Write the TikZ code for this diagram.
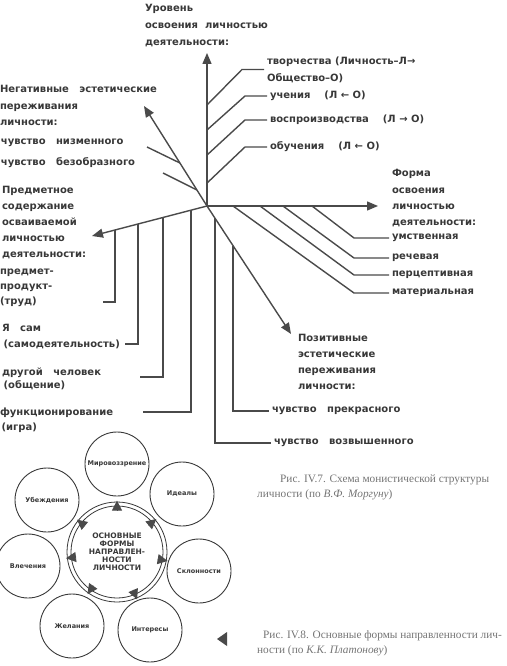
\documentclass[tikz,border=0pt]{standalone}
\usepackage{fontspec}
\newfontfamily\diagfont{DejaVu Sans}
\newfontfamily\capfont{Liberation Serif}
\usetikzlibrary{arrows.meta,calc,positioning}
\definecolor{inkgray}{HTML}{383838}
\definecolor{linegray}{HTML}{4A4A4A}
\definecolor{capgray}{HTML}{747474}
\tikzset{ln/.style={draw=linegray,line width=1.4pt},
  axis/.style={ln,-{Triangle[length=11pt,width=9pt]}},
  lbl/.style={inner sep=0pt,outer sep=3pt,text=inkgray,anchor=west,
    font=\diagfont\bfseries\fontsize{10}{16}\selectfont},
  blk/.style={lbl,align=left,anchor=north west,font=\diagfont\bfseries\fontsize{10}{#1}\selectfont},
  blk/.default=16,
  sat/.style={circle,draw=inkgray,line width=0.9pt,minimum size=64pt,inner sep=0pt,
    text=inkgray,font=\diagfont\bfseries\fontsize{6.5}{7}\selectfont},
  tri/.style={draw=linegray,fill=linegray,line width=0.8pt,-{Triangle[length=10pt,width=10pt]},shorten >=-1pt},
  captext/.style={inner sep=0pt,align=left,anchor=north west,text=capgray,
    font=\capfont\fontsize{11.3}{15}\selectfont}}
\begin{document}
\begin{tikzpicture}[x=1pt,y=-1pt]
\useasboundingbox (0,0) rectangle (506,666);
% axes of the scheme
\coordinate (O) at (207,206);
\coordinate (U) at (207,53);
\coordinate (R) at (378,206);
\coordinate (D) at (291,334);
\coordinate (L) at (92,236);
\coordinate (N) at (144,106);
\foreach \tip in {U,R,D,L,N} \draw[axis] (O) -- (\tip);

% level of mastering
\node[blk=17] (lvl) at (142,1.5) {Уровень\\освоения~~личностью\\деятельности:};
\node[blk=17] (tv) at (264,53.5) {творчества (Личность–Л→\\Общество–О)};
\node[lbl] (uch) at (267,96) {учения~~~~(Л ← О)};
\node[lbl] (vosp) at (267,120) {воспроизводства~~~~(Л → О)};
\node[lbl] (obuch) at (267,147) {обучения~~~~(Л ← О)};
\foreach \t/\n in {0.66/tv,0.497/uch,0.333/vosp,0.15/obuch}
  \draw[ln] ($(O)!\t!(U)$) -- ([xshift=-22pt]\n.west) -- (\n.west);

% form of mastering
\node[blk=16.3] (form) at (389,166.5) {Форма\\освоения\\личностью\\деятельности:};
\node[lbl] (um) at (389,238) {умственная};
\node[lbl] (rech) at (389,258) {речевая};
\node[lbl] (perc) at (389,275) {перцептивная};
\node[lbl] (mat) at (389,293) {материальная};
\foreach \t/\n in {0.614/um,0.444/rech,0.31/perc,0.152/mat}
  \draw[ln] ($(O)!\t!(R)$) -- ([xshift=-35pt]\n.west) -- (\n.west);

% positive experiences
\node[blk=16] (pos) at (295,331.5) {Позитивные\\эстетические\\переживания\\личности:};
\node[lbl] (prek) at (269,411) {чувство~~~прекрасного};
\node[lbl] (vozv) at (271,443) {чувство~~~возвышенного};
\draw[ln] ($(O)!0.31!(D)$) |- (prek.west);
\draw[ln] ($(O)!0.095!(D)$) |- (vozv.west);

% negative experiences
\node[blk=16.5] (neg) at (-3,82.5) {Негативные~~~эстетические\\переживания\\личности:};
\node[lbl] (nizm) at (-2,143) {чувство~~~низменного};
\node[lbl] (bezobr) at (-2,163) {чувство~~~безобразного};
\coordinate (nizmEnd) at (147,147);
\coordinate (bezEnd) at (163,173);
\draw[ln] (nizmEnd) -- ($(O)!0.43!(N)$);
\draw[ln] (bezEnd) -- ($(O)!0.16!(N)$);

% object content
\node[blk=16] (pred) at (-1,183.5) {Предметное\\содержание\\осваиваемой\\личностью\\деятельности:};
\node[blk=15] (prod) at (-3,265.5) {предмет-\\продукт-\\(труд)};
\node[blk=16] (yasam) at (-1,321.5) {Я~~~сам\\\,(самодеятельность)};
\node[blk=13.5] (drug) at (-1,364.5) {другой~~~человек\\\,(общение)};
\node[blk=15] (func) at (-3,404.5) {функционирование\\\,(игра)};
\coordinate (trudEnd) at (103,302);
\coordinate (samEnd) at (125,344);
\coordinate (drugEnd) at (140,377);
\coordinate (funcEnd) at (143,412);
\foreach \t/\e in {0.8/trudEnd,0.6/samEnd,0.383/drugEnd,0.139/funcEnd}
  \draw[ln] ($(O)!\t!(L)$) |- (\e);

% caption IV.7
\node[captext] (capA) at (257,475) {\hspace*{23pt}Рис. IV.7. Схема монистической структуры\\личности (по \textit{В.Ф. Моргуну})};

% forms of orientation
\node[circle,draw=inkgray,line width=0.8pt,minimum size=92pt,inner sep=0pt,align=center,
  text=inkgray,font=\diagfont\bfseries\fontsize{7.5}{8}\selectfont] (core) at (117,552)
  {ОСНОВНЫЕ\\ФОРМЫ\\НАПРАВЛЕН-\\НОСТИ\\ЛИЧНОСТИ};
\node[circle,draw=inkgray,line width=0.8pt,minimum size=100pt] (rim) at (core) {};
\node[circle,minimum size=82pt] (hub) at (core) {};
\node[sat] (mir) at (117,464) {Мировоззрение};
\node[sat] (ideal) at (182,494) {Идеалы};
\node[sat] (skl) at (199,571) {Склонности};
\node[sat] (inter) at (150,630) {Интересы};
\node[sat] (zhel) at (72,626) {Желания};
\node[sat] (vlech) at (28,566) {Влечения};
\node[sat] (ubezh) at (47,500) {Убеждения};
\foreach \a in {90,40,-10,-67,-125,187,141}
  \draw[tri] (hub.\a) -- (rim.\a);

% caption IV.8
\fill[linegray] (217,639) -- (227,632) -- (227,646) -- cycle;
\node[captext] (capB) at (257,630) {\hspace*{6pt}Рис. IV.8. Основные формы направленности лич-\\ности (по \textit{К.К. Платонову})};
\end{tikzpicture}
\end{document}
